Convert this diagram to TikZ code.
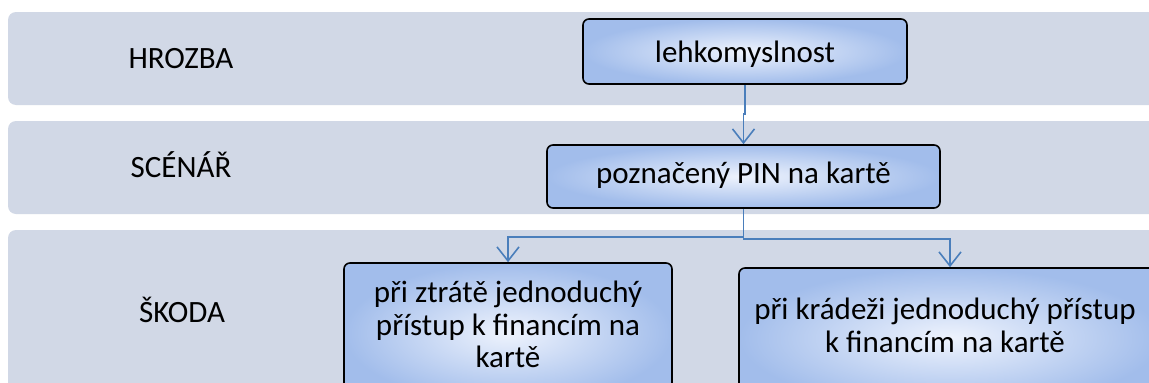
\documentclass[tikz,border=0pt]{standalone}
\usepackage{fontspec}
\setmainfont{Carlito}
\usetikzlibrary{arrows.meta,calc}
\definecolor{bandc}{HTML}{D1D8E6}
\definecolor{boxout}{HTML}{A2BDEB}
\definecolor{boxin}{HTML}{EEF3FD}
\definecolor{linec}{HTML}{4A7EBB}
\tikzset{
  band/.style={fill=bandc, rounded corners=8pt},
  txt/.style={font=\fontsize{31}{32.5}\selectfont, text=black, inner sep=0pt, align=center},
  gbox/.style={draw=black, line width=1.6pt, rounded corners=6pt, inner color=boxin, outer color=boxout, inner sep=0pt},
  conn/.style={draw=linec, line width=1.8pt, -{Straight Barb[length=14pt,width=22pt,line width=1.6pt]}},
}
\begin{document}
\begin{tikzpicture}[x=1pt,y=-1pt]
\useasboundingbox (0,0) rectangle (1149,383);
\clip (0,0) rectangle (1149,383);
\fill[white] (0,0) rectangle (1149,383);
% bands
\path[band] (8,12) rectangle (1170,105);
\path[band] (8,121) rectangle (1170,214);
\path[band] (8,230) rectangle (1170,410);
% labels
\node[txt, anchor=base] (hrozba) at (181,68) {HROZBA};
\node[txt, anchor=base] (scenar) at (181,177) {SCÉNÁŘ};
\node[txt, anchor=base] (skoda) at (182,322) {ŠKODA};
% boxes
\node[gbox, minimum width=324pt, minimum height=65pt] (lehk) at (745,51.5) {};
\node[gbox, minimum width=393pt, minimum height=63pt] (pozn) at (743.5,176.5) {};
\node[gbox, minimum width=328pt, minimum height=140pt] (b1) at (508,333) {};
\node[gbox, minimum width=422pt, minimum height=140pt] (b2) at (950,338) {};
% box texts
\node[txt, anchor=base] (lehkt) at (745,62) {lehkomyslnost};
\node[txt, anchor=base] (poznt) at (743.5,183) {poznačený PIN na kartě};
\node[txt] (b1t) at (508,324.5) {při ztrátě jednoduchý\\přístup k financím na\\kartě};
\node[txt] (b2t) at (945,325.5) {při krádeži jednoduchý přístup\\k financím na kartě};
% connectors
\draw[conn] (lehk.south) -- ++(0,29) -| (pozn.north);
\draw[conn] (pozn.south) -- ++(0,28) -| (b1.north);
\draw[conn] (pozn.south) -- ++(0,30) -| (b2.north);
\end{tikzpicture}
\end{document}
